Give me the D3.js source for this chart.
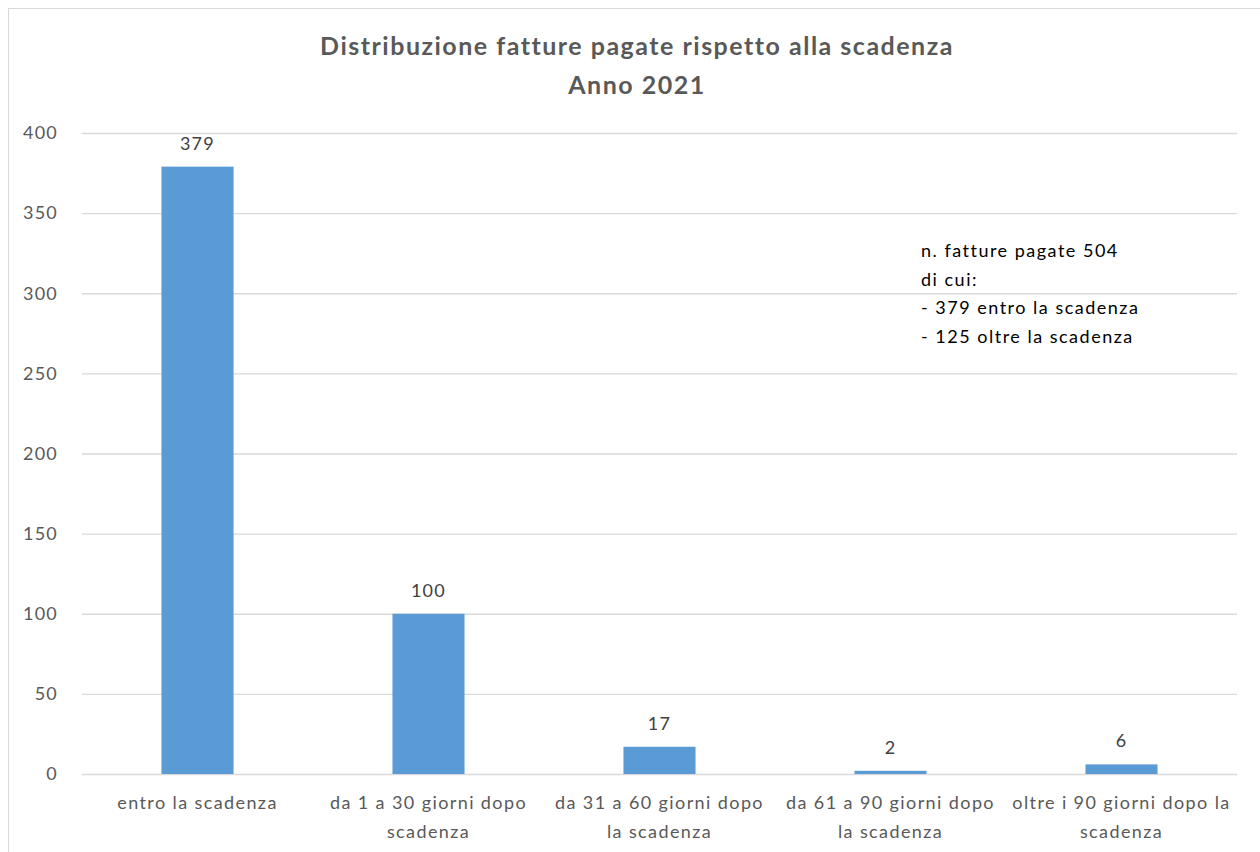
<!DOCTYPE html>
<html>
<head>
<meta charset="utf-8">
<script src="https://cdn.jsdelivr.net/npm/d3@7"></script>
<style>
  html, body { margin: 0; padding: 0; background: #fff; }
  svg { display: block; font-family: Lato, "Open Sans", sans-serif; }
</style>
</head>
<body>
<div id="chart"></div>
<script>
const WIDTH = 1260;
const HEIGHT = 852;

// data
const CATEGORIES = [
  ["entro la scadenza"],
  ["da 1 a 30 giorni dopo", "scadenza"],
  ["da 31 a 60 giorni dopo", "la scadenza"],
  ["da 61 a 90 giorni dopo", "la scadenza"],
  ["oltre i 90 giorni dopo la", "scadenza"]
];
const VALUES = [379, 100, 17, 2, 6];
const Y_TICKS = [0, 50, 100, 150, 200, 250, 300, 350, 400];
const TITLE = ["Distribuzione fatture pagate rispetto alla scadenza", "Anno 2021"];
const NOTE = ["n. fatture pagate 504", "di cui:", "- 379 entro la scadenza", "- 125 oltre la scadenza"];

const BAR_COLOR = "#5b9bd5";
const GRID_COLOR = "#d9d9d9";
const TEXT_COLOR = "#595959";

const plot = { left: 82, right: 1237, top: 133, bottom: 774 };

const svg = d3.select("#chart")
  .append("svg")
  .attr("width", WIDTH)
  .attr("height", HEIGHT);

// chart frame (runs off the right and bottom edges like the screenshot)
svg.append("rect")
  .attr("x", 8.5)
  .attr("y", 8.5)
  .attr("width", WIDTH + 20)
  .attr("height", HEIGHT + 20)
  .attr("fill", "#fff")
  .attr("stroke", "#d9d9d9")
  .attr("stroke-width", 1);

// title
svg.append("text")
  .attr("text-anchor", "middle")
  .attr("font-weight", "bold")
  .attr("font-size", "25px")
  .attr("letter-spacing", "1.5px")
  .attr("fill", TEXT_COLOR)
  .selectAll("tspan")
  .data(TITLE)
  .enter()
  .append("tspan")
  .attr("x", 637)
  .attr("y", (d, i) => 55 + i * 39)
  .text(d => d);

// scales
const xScale = d3.scaleBand()
  .domain(d3.range(CATEGORIES.length))
  .range([plot.left, plot.right])
  .paddingInner(0.688)
  .paddingOuter(0.344);

const yScale = d3.scaleLinear()
  .domain([0, 400])
  .range([plot.bottom, plot.top]);

// Y axis with gridlines
const yAxis = d3.axisLeft(yScale)
  .tickValues(Y_TICKS)
  .tickSize(-(plot.right - plot.left))
  .tickPadding(24);

const yG = svg.append("g")
  .attr("transform", "translate(" + plot.left + ",0)")
  .call(yAxis);
yG.select(".domain").remove();
yG.selectAll(".tick line")
  .attr("stroke", GRID_COLOR)
  .attr("stroke-width", 1.3);
yG.selectAll(".tick text")
  .attr("fill", TEXT_COLOR)
  .attr("font-size", "18px")
  .attr("letter-spacing", "1.2px")
  .attr("font-family", "Lato, sans-serif");

// bars
svg.selectAll("rect.bar")
  .data(VALUES)
  .enter()
  .append("rect")
  .attr("class", "bar")
  .attr("x", (d, i) => xScale(i))
  .attr("y", d => yScale(d))
  .attr("width", xScale.bandwidth())
  .attr("height", d => yScale(0) - yScale(d))
  .attr("fill", BAR_COLOR);

// data labels
svg.selectAll("text.value")
  .data(VALUES)
  .enter()
  .append("text")
  .attr("class", "value")
  .attr("x", (d, i) => xScale(i) + xScale.bandwidth() / 2)
  .attr("y", d => yScale(d) - 17)
  .attr("text-anchor", "middle")
  .attr("font-size", "18px")
  .attr("letter-spacing", "1.3px")
  .attr("fill", "#404040")
  .text(d => d);

// category labels
const catG = svg.selectAll("text.cat")
  .data(CATEGORIES)
  .enter()
  .append("text")
  .attr("class", "cat")
  .attr("text-anchor", "middle")
  .attr("font-size", "18px")
  .attr("letter-spacing", "1.4px")
  .attr("fill", TEXT_COLOR);
catG.selectAll("tspan")
  .data((d, i) => d.map(line => ({ line: line, i: i })))
  .enter()
  .append("tspan")
  .attr("x", d => xScale(d.i) + xScale.bandwidth() / 2)
  .attr("y", (d, j) => 809 + j * 29)
  .text(d => d.line);

// note text box
svg.append("text")
  .attr("font-size", "18px")
  .attr("letter-spacing", "1.5px")
  .attr("fill", "#000")
  .selectAll("tspan")
  .data(NOTE)
  .enter()
  .append("tspan")
  .attr("x", 921)
  .attr("y", (d, i) => 257 + i * 28.5)
  .text(d => d);
</script>
</body>
</html>
